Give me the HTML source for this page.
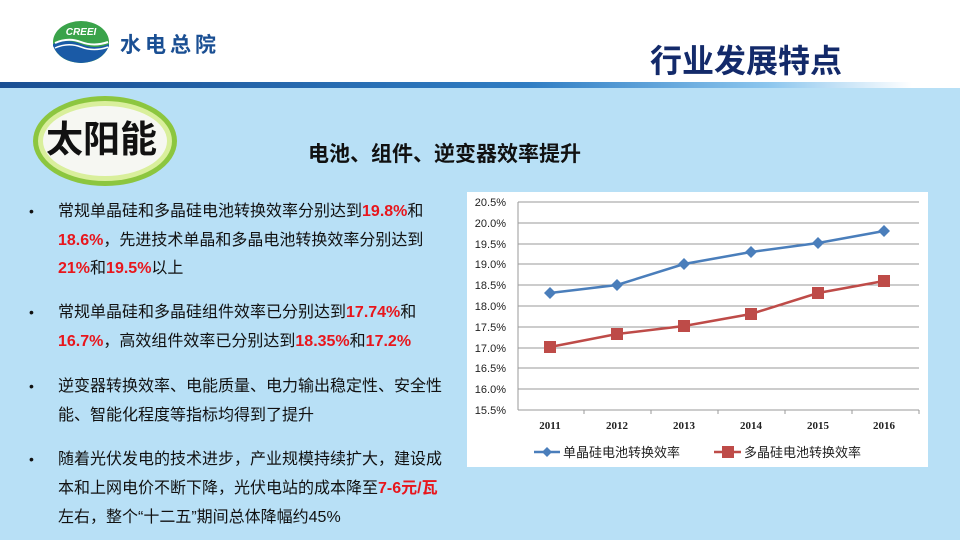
<!DOCTYPE html>
<html><head><meta charset="utf-8"><style>
html,body{margin:0;padding:0}
body{width:960px;height:540px;position:relative;overflow:hidden;background:#b8e0f6;font-family:"Liberation Sans","Noto Sans CJK SC",sans-serif}
.top{position:absolute;left:0;top:0;width:960px;height:82px;background:#fff}
.bar{position:absolute;left:0;top:82px;width:960px;height:6px;background:linear-gradient(90deg,#1a4f93 0%,#2f7dc3 55%,#8cc6ee 80%,#ffffff 95%)}
.t{position:absolute;white-space:nowrap}
.line{position:absolute;left:58px;font-size:16px;color:#111;white-space:nowrap;line-height:18px}
.r{color:#e8161c;font-weight:bold}
.dot{position:absolute;left:29px;font-size:14px;color:#111}
</style></head><body>
<div class="top"></div>
<div class="bar"></div>
<svg style="position:absolute;left:52px;top:20px" width="58" height="44" viewBox="0 0 58 44">
<ellipse cx="29" cy="22" rx="28" ry="21" fill="#3aa34a"/>
<path d="M1 24 Q15 18 29 24 T57 24 L57 26 Q50 42 29 43 Q8 42 1 26Z" fill="#1a5aa6"/>
<path d="M3 23 Q16 17 29 22 T56 22" stroke="#fff" stroke-width="2" fill="none"/>
<path d="M3 28 Q16 22 29 27 T56 27" stroke="#fff" stroke-width="1.5" fill="none"/>
<text x="29" y="15" font-size="10" font-style="italic" font-weight="bold" fill="#fff" text-anchor="middle" font-family="Liberation Sans">CREEI</text>
</svg>
<div class="t" style="left:120px;top:29px;font-size:21px;font-weight:bold;color:#1a4f93;letter-spacing:4px">水电总院</div>
<div class="t" style="left:650px;top:43px;font-size:32px;font-weight:bold;color:#132a6a;line-height:37px">行业发展特点</div>
<svg style="position:absolute;left:30px;top:93px" width="152" height="96">
<ellipse cx="75" cy="48" rx="72" ry="45" fill="#8cc63f"/>
<ellipse cx="75" cy="48" rx="67" ry="40" fill="#d9ef9c"/>
<ellipse cx="75" cy="48" rx="62" ry="35" fill="#f6f7f2"/>
</svg>
<div class="t" style="left:46px;top:118px;font-size:37px;font-weight:bold;color:#111;line-height:44px">太阳能</div>
<div class="t" style="left:308px;top:142px;font-size:21px;font-weight:bold;color:#111;line-height:26px">电池、组件、逆变器效率提升</div>

<div class="dot" style="top:203px">•</div>
<div class="line" style="top:203px">常规单晶硅和多晶硅电池转换效率分别达到<span class="r">19.8%</span>和</div>
<div class="line" style="top:232px"><span class="r">18.6%</span>，先进技术单晶和多晶电池转换效率分别达到</div>
<div class="line" style="top:260px"><span class="r">21%</span>和<span class="r">19.5%</span>以上</div>
<div class="dot" style="top:304px">•</div>
<div class="line" style="top:304px">常规单晶硅和多晶硅组件效率已分别达到<span class="r">17.74%</span>和</div>
<div class="line" style="top:333px"><span class="r">16.7%</span>，高效组件效率已分别达到<span class="r">18.35%</span>和<span class="r">17.2%</span></div>
<div class="dot" style="top:378px">•</div>
<div class="line" style="top:378px">逆变器转换效率、电能质量、电力输出稳定性、安全性</div>
<div class="line" style="top:407px">能、智能化程度等指标均得到了提升</div>
<div class="dot" style="top:451px">•</div>
<div class="line" style="top:451px">随着光伏发电的技术进步，产业规模持续扩大，建设成</div>
<div class="line" style="top:480px">本和上网电价不断下降，光伏电站的成本降至<span class="r">7-6元/瓦</span></div>
<div class="line" style="top:509px">左右，整个“十二五”期间总体降幅约45%</div>

<svg style="position:absolute;left:0;top:0" width="960" height="540">
<rect x="467" y="192" width="461" height="275" fill="#fff"/>
<g stroke="#9a9a9a" stroke-width="1">
<line x1="518" y1="202" x2="919" y2="202"/><line x1="518" y1="223" x2="919" y2="223"/>
<line x1="518" y1="244" x2="919" y2="244"/><line x1="518" y1="264" x2="919" y2="264"/>
<line x1="518" y1="285" x2="919" y2="285"/><line x1="518" y1="306" x2="919" y2="306"/>
<line x1="518" y1="327" x2="919" y2="327"/><line x1="518" y1="348" x2="919" y2="348"/>
<line x1="518" y1="368" x2="919" y2="368"/><line x1="518" y1="389" x2="919" y2="389"/>
<line x1="518" y1="410" x2="919" y2="410"/>
<line x1="518" y1="202" x2="518" y2="410"/>
<line x1="584" y1="410" x2="584" y2="414"/><line x1="651" y1="410" x2="651" y2="414"/>
<line x1="718" y1="410" x2="718" y2="414"/><line x1="785" y1="410" x2="785" y2="414"/>
<line x1="852" y1="410" x2="852" y2="414"/><line x1="919" y1="410" x2="919" y2="414"/>
</g>
<g font-family="Liberation Sans" font-size="11" fill="#222" text-anchor="end">
<text x="506" y="206">20.5%</text><text x="506" y="227">20.0%</text><text x="506" y="248">19.5%</text>
<text x="506" y="268">19.0%</text><text x="506" y="289">18.5%</text><text x="506" y="310">18.0%</text>
<text x="506" y="331">17.5%</text><text x="506" y="352">17.0%</text><text x="506" y="372">16.5%</text>
<text x="506" y="393">16.0%</text><text x="506" y="414">15.5%</text>
</g>
<g font-family="Liberation Serif" font-size="11" font-weight="bold" fill="#222" text-anchor="middle">
<text x="550" y="429">2011</text><text x="617" y="429">2012</text><text x="684" y="429">2013</text>
<text x="751" y="429">2014</text><text x="818" y="429">2015</text><text x="884" y="429">2016</text>
</g>
<polyline points="550,293 617,285 684,264 751,252 818,243 884,231" fill="none" stroke="#4a7ebb" stroke-width="2.5"/>
<g fill="#4a7ebb">
<path d="M550 287l6 6-6 6-6-6z"/><path d="M617 279l6 6-6 6-6-6z"/><path d="M684 258l6 6-6 6-6-6z"/>
<path d="M751 246l6 6-6 6-6-6z"/><path d="M818 237l6 6-6 6-6-6z"/><path d="M884 225l6 6-6 6-6-6z"/>
</g>
<polyline points="550,347 617,334 684,326 751,314 818,293 884,281" fill="none" stroke="#be4b48" stroke-width="2.5"/>
<g fill="#be4b48">
<rect x="544" y="341" width="12" height="12"/><rect x="611" y="328" width="12" height="12"/>
<rect x="678" y="320" width="12" height="12"/><rect x="745" y="308" width="12" height="12"/>
<rect x="812" y="287" width="12" height="12"/><rect x="878" y="275" width="12" height="12"/>
</g>
<line x1="534" y1="452" x2="560" y2="452" stroke="#4a7ebb" stroke-width="2.5"/>
<path d="M547 447l5 5-5 5-5-5z" fill="#4a7ebb"/>
<text x="563" y="457" font-size="13" fill="#222" font-family="Liberation Sans,Noto Sans CJK SC,sans-serif">单晶硅电池转换效率</text>
<line x1="714" y1="452" x2="741" y2="452" stroke="#be4b48" stroke-width="2.5"/>
<rect x="722" y="446" width="12" height="12" fill="#be4b48"/>
<text x="744" y="457" font-size="13" fill="#222" font-family="Liberation Sans,Noto Sans CJK SC,sans-serif">多晶硅电池转换效率</text>
</svg>
</body></html>
